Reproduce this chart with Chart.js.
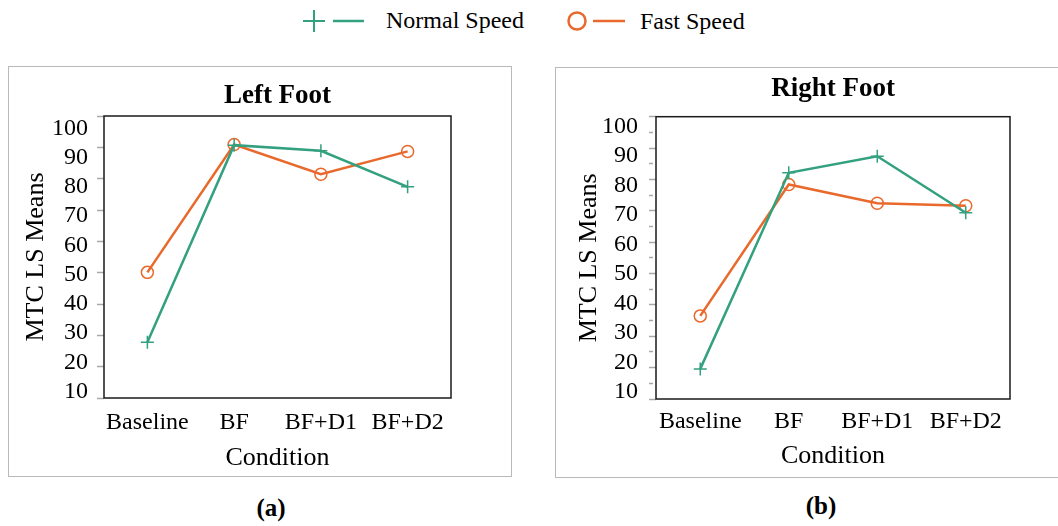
<!DOCTYPE html>
<html>
<head>
<meta charset="utf-8">
<script src="https://cdn.jsdelivr.net/npm/chart.js@4.4.1/dist/chart.umd.min.js"></script>
<style>
  body { margin: 0; background: #fff; width: 1058px; height: 526px; overflow: hidden; position: relative; }
  .box { position: absolute; border: 1.5px solid #b9b9b9; box-sizing: border-box; }
  canvas { position: absolute; }
  svg { position: absolute; left: 0; top: 0; }
  svg text { font-family: 'Liberation Serif', 'Times New Roman', serif; fill: #000; }
</style>
</head>
<body>
<svg width="1058" height="526">
  <!-- legend -->
  <line x1="303" y1="21" x2="325" y2="21" stroke="#33a07f" stroke-width="2"/>
  <line x1="314" y1="10" x2="314" y2="32" stroke="#33a07f" stroke-width="2"/>
  <line x1="333" y1="21" x2="364" y2="21" stroke="#33a07f" stroke-width="2.5"/>
  <text x="386" y="28" font-size="24">Normal Speed</text>
  <circle cx="577" cy="21" r="8.5" fill="none" stroke="#e9692c" stroke-width="2.5"/>
  <line x1="593" y1="21" x2="625" y2="21" stroke="#e9692c" stroke-width="2.5"/>
  <text x="640" y="29" font-size="24">Fast Speed</text>
  <!-- panel captions -->
  <text x="271" y="516" font-size="25" font-weight="bold" text-anchor="middle">(a)</text>
  <text x="821" y="514" font-size="25" font-weight="bold" text-anchor="middle">(b)</text>
</svg>
<div class="box" style="left:8px;top:66px;width:504px;height:411px"></div>
<div class="box" style="left:555px;top:67px;width:520px;height:411px"></div>
<canvas id="leftChart" width="501" height="409" style="left:9px;top:67px"></canvas>
<canvas id="rightChart" width="502" height="409" style="left:556px;top:68px"></canvas>
<script>
// ---- data ----
const conditions = ['Baseline', 'BF', 'BF+D1', 'BF+D2'];

const leftNormal = [27.8, 90.7, 88.9, 77.4];
const leftFast = [50.1, 90.9, 81.4, 88.7];

const rightNormal = [19.6, 82.1, 87.4, 69.4];
const rightFast = [36.5, 78.4, 72.4, 71.6];

const yTickLabels = [10, 20, 30, 40, 50, 60, 70, 80, 90, 100];
// right panel also has small ticks every 5
const rightTickMarks = [10, 15, 20, 25, 30, 35, 40, 45, 50, 55, 60, 65, 70, 75, 80, 85, 90, 95, 100];

const GREEN = '#33a07f';
const ORANGE = '#e9692c';
const FONT = "'Liberation Serif', 'Times New Roman', serif";

// black frame round the plot area
const framePlugin = {
  id: 'frame',
  beforeDatasetsDraw(chart) {
    const a = chart.chartArea;
    const ctx = chart.ctx;
    ctx.save();
    ctx.strokeStyle = '#1a1a1a';
    ctx.lineWidth = 1.5;
    ctx.strokeRect(a.left, a.top, a.right - a.left, a.bottom - a.top);
    ctx.restore();
  }
};

function makeChart(id, title, normal, fast, lay) {
  return new Chart(document.getElementById(id), {
    type: 'line',
    data: {
      labels: conditions,
      datasets: [{
        label: 'Normal Speed',
        data: normal,
        borderColor: GREEN,
        backgroundColor: GREEN,
        borderWidth: 2.5,
        pointStyle: 'cross',
        pointRadius: 6.5,
        pointBorderWidth: 1.5,
        tension: 0
      }, {
        label: 'Fast Speed',
        data: fast,
        borderColor: ORANGE,
        backgroundColor: 'rgba(0,0,0,0)',
        borderWidth: 2.5,
        pointStyle: 'circle',
        pointRadius: 6,
        pointBorderWidth: 1.5,
        tension: 0
      }]
    },
    options: {
      responsive: false,
      animation: false,
      layout: { padding: { left: 0, right: lay.padRight, top: 0, bottom: 0 } },
      plugins: {
        legend: { display: false },
        tooltip: { enabled: false },
        title: {
          display: true,
          text: title,
          fullSize: false,
          color: '#000',
          font: { family: FONT, size: 27, weight: 'bold' },
          padding: lay.titlePad
        }
      },
      scales: {
        x: {
          offset: true,
          grid: { display: false, drawTicks: false },
          border: { display: false },
          ticks: { color: '#000', font: { family: FONT, size: 24 }, padding: lay.xTickPad, maxRotation: 0, autoSkip: false },
          title: {
            display: true, text: 'Condition', color: '#000',
            font: { family: FONT, size: 26 }, padding: { top: 0, bottom: lay.xTitlePad }
          },
          afterFit: s => { s.height = 78; }
        },
        // tick marks only
        y: {
          position: 'left',
          weight: 0,
          min: 10,
          max: 100,
          afterBuildTicks: s => { s.ticks = lay.marks.map(v => ({ value: v })); },
          ticks: { display: false, autoSkip: false },
          grid: {
            drawOnChartArea: false, drawTicks: true, tickLength: 7,
            tickColor: '#a8a8a8', tickWidth: 1.5,
            tickBorderDash: c => (c.tick && c.tick.value % 10 !== 0) ? [4, 20] : []
          },
          border: { display: false },
          afterFit: s => { s.width = 7; }
        },
        // tick labels, placed as in the figure
        yl: {
          position: 'left',
          weight: 1,
          min: lay.labMin,
          max: lay.labMax,
          afterBuildTicks: s => { s.ticks = yTickLabels.map(v => ({ value: v })); },
          grid: { display: false, drawTicks: false },
          border: { display: false },
          ticks: { color: '#000', font: { family: FONT, size: 24 }, padding: lay.yTickPad, autoSkip: false },
          title: {
            display: true, text: 'MTC LS Means', color: '#000',
            font: { family: FONT, size: 26 }, padding: { top: lay.yTitlePad, bottom: 0 }
          },
          afterFit: s => { s.width = lay.yWidth; }
        }
      }
    },
    plugins: [framePlugin]
  });
}

makeChart('leftChart', 'Left Foot', leftNormal, leftFast, {
  padRight: 59, titlePad: { top: 12.8, bottom: 3.8 },
  xTickPad: 10.5, xTitlePad: 2.2,
  marks: yTickLabels, labMin: 7.85, labMax: 104.2,
  yTickPad: 9, yTitlePad: 11.4, yWidth: 88
});

makeChart('rightChart', 'Right Foot', rightNormal, rightFast, {
  padRight: 48, titlePad: { top: 4.8, bottom: 11.5 },
  xTickPad: 8.5, xTitlePad: 5,
  marks: rightTickMarks, labMin: 7.5, labMax: 103.4,
  yTickPad: 11, yTitlePad: 17.4, yWidth: 93
});
</script>
</body>
</html>
